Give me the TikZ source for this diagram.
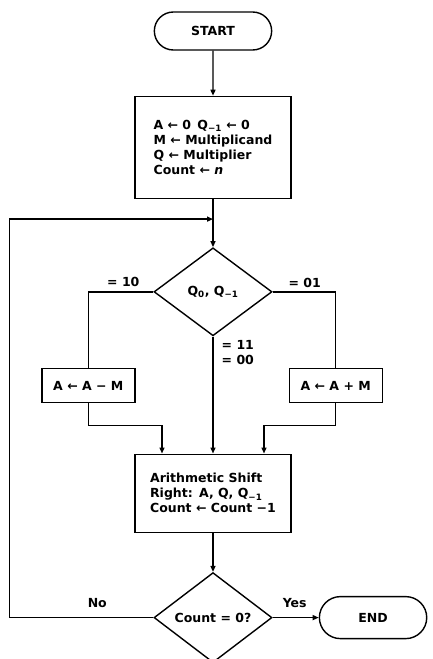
\documentclass[tikz,border=0pt]{standalone}
\usepackage{fontspec}
\setmainfont{DejaVu Sans}
\usetikzlibrary{positioning,shapes.geometric,shapes.misc,arrows.meta}

\begin{document}
\begin{tikzpicture}[
  x=1pt, y=1pt,
  line width=1.4pt,
  font=\bfseries\fontsize{12.5}{15}\selectfont,
  terminal/.style={draw, rounded rectangle, minimum height=38pt},
  procbox/.style={draw, rectangle, align=left, minimum width=156pt},
  decision/.style={draw, diamond, inner sep=0pt, minimum width=118pt, minimum height=88pt},
  lbl/.style={inner sep=1pt, align=left},
  arrow/.style={-{Triangle[length=6pt,width=5pt]}}
]
\useasboundingbox (0,0) rectangle (432,-659);
\node[terminal, minimum width=124pt] (start) at (213,-31) {START};
\node[procbox, minimum height=102pt, below=45pt of start] (init)
  {A ← 0\enspace Q\textsubscript{−1} ← 0\\M ← Multiplicand\\Q ← Multiplier\\Count ← \textit{n}};
\node[decision, below=48pt of init] (qq) {Q\textsubscript{0}, Q\textsubscript{−1}};
\node[procbox, minimum width=93pt, minimum height=34pt, below=76pt of qq.west, xshift=-65pt] (sub) {A ← A − M};
\node[procbox, minimum width=93pt, minimum height=34pt, below=76pt of qq.east, xshift=63pt] (add) {A ← A + M};
\node[procbox, minimum height=78pt, below=117pt of qq] (arith)
  {Arithmetic Shift\\Right:\enspace A, Q, Q\textsubscript{−1}\\Count ← Count −1};
\node[decision, below=39pt of arith, minimum height=90pt] (cnt) {Count = 0?};
\node[terminal, minimum width=114pt, minimum height=42pt, right=46pt of cnt] (end) {END};
% branch labels
\node[lbl] (l10) at ([shift={(-30,10)}]qq.west) {= 10};
\node[lbl] (l01) at ([shift={(32,9)}]qq.east) {= 01};
\node[lbl, anchor=north west] (l11) at ([shift={(7,-2)}]qq.south) {= 11\\= 00};
\node[lbl] (lno) at ([shift={(-56,15)}]cnt.west) {No};
\node[lbl] (lyes) at ([shift={(22,15)}]cnt.east) {Yes};
% connectors
\coordinate[below=20pt of init.south] (join);
\draw[arrow] (start) -- (init);
\draw[arrow] (init) -- (qq);
\draw (qq.west) -| (sub.north);
\draw (qq.east) -| (add.north);
\draw[arrow] (qq.south) -- (arith.north);
\draw[arrow] (sub.south) -- ++(0,-22) -| ([xshift=-51pt]arith.north);
\draw[arrow] (add.south) -- ++(0,-22) -| ([xshift=51pt]arith.north);
\draw[arrow] (arith) -- (cnt);
\draw[arrow] (cnt.east) -- (end);
\draw[arrow] (cnt.west) -- ++(-144,0) |- (join);
\end{tikzpicture}
\end{document}
